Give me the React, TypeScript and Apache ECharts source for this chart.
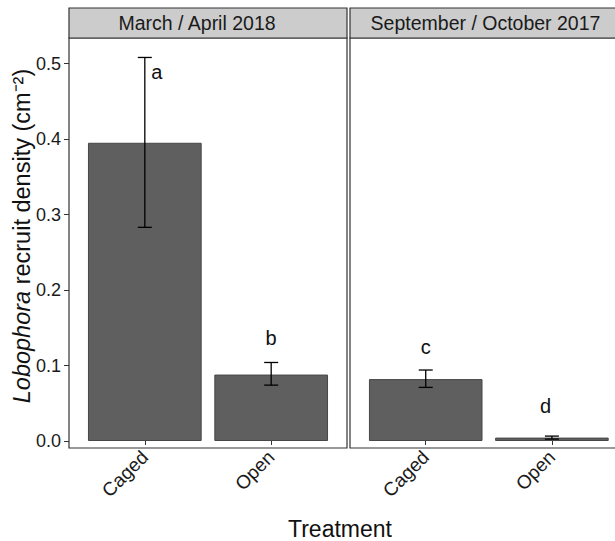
import React, { useEffect, useRef } from "react";
import * as echarts from "echarts";

const categories = ["Caged", "Open"];
const panelTitles = ["March / April 2018", "September / October 2017"];

const meanMarch = [0.395, 0.088];
const lowMarch = [0.283, 0.074];
const highMarch = [0.508, 0.104];

const meanSept = [0.082, 0.0045];
const lowSept = [0.071, 0.0025];
const highSept = [0.094, 0.0065];

const lettersMarch = ["a", "b"];
const letterDxMarch = [0.095, 0];
const letterYMarch = [0.489, 0.136];

const lettersSept = ["c", "d"];
const letterDxSept = [0, -0.05];
const letterYSept = [0.1245, 0.046];

const yTicks = [0, 0.1, 0.2, 0.3, 0.4, 0.5];

const FONT = '"Liberation Sans", Arial, Helvetica, sans-serif';

export default function App() {
  const ref = useRef<HTMLDivElement>(null);

  useEffect(() => {
    if (!ref.current) return;
    const chart = echarts.init(ref.current, null, { renderer: "svg" });

    const panelLeft = [69, 350];
    const panelTop = 38;
    const panelBottom = 448;
    const panelW = 278;
    const unit = panelW / 2.2;
    const zeroY = 441;
    const pxPer = 755;
    const gridTop = zeroY - yTicks[yTicks.length - 1] * pxPer;

    const grids = panelLeft.map((l) => ({
      left: l + unit * 0.1,
      top: gridTop,
      width: unit * 2,
      height: zeroY - gridTop,
    }));

    const makeErrRender = (letters: string[]) => (params: any, api: any) => {
      const x = api.value(0);
      const lo = api.coord([x, api.value(1)]);
      const hi = api.coord([x, api.value(2)]);
      const band = api.size([1, 0])[0];
      const lp = api.coord([x, api.value(3)]);
      const dx = api.value(4) * band;
      const w = 7;
      const st = { stroke: "#000", lineWidth: 1.3 };
      return {
        type: "group",
        children: [
          { type: "line", shape: { x1: lo[0], y1: lo[1], x2: hi[0], y2: hi[1] }, style: st },
          { type: "line", shape: { x1: hi[0] - w, y1: hi[1], x2: hi[0] + w, y2: hi[1] }, style: st },
          { type: "line", shape: { x1: lo[0] - w, y1: lo[1], x2: lo[0] + w, y2: lo[1] }, style: st },
          {
            type: "text",
            x: lp[0] + dx,
            y: lp[1],
            style: {
              text: letters[params.dataIndex],
              fontSize: 20,
              fontFamily: FONT,
              fill: "#111",
              align: "center",
              verticalAlign: "middle",
            },
          },
        ],
      };
    };

    const catAxis = (gi: number) => ({
      type: "category",
      gridIndex: gi,
      data: categories,
      offset: panelBottom - zeroY,
      axisLine: { show: false },
      splitLine: { show: false },
      axisTick: { show: true, alignWithLabel: true, length: 4, lineStyle: { color: "#333", width: 1 } },
      axisLabel: {
        rotate: 45,
        margin: 6,
        fontSize: 19,
        color: "#1a1a1a",
        fontFamily: FONT,
      },
    });

    const yAxisDef = (gi: number, show: boolean) => ({
      type: "value",
      gridIndex: gi,
      min: 0,
      max: 0.5,
      interval: 0.1,
      show,
      offset: unit * 0.1,
      splitLine: { show: false },
      axisLine: { show: false },
      axisTick: { show: true, length: 5, lineStyle: { color: "#333", width: 1 } },
      axisLabel: {
        fontSize: 18,
        color: "#1a1a1a",
        fontFamily: FONT,
        margin: 8,
        formatter: (v: number) => v.toFixed(1),
      },
    });

    const barSeries = (gi: number, vals: number[]) => ({
      type: "bar",
      xAxisIndex: gi,
      yAxisIndex: gi,
      data: vals,
      barWidth: "90%",
      itemStyle: { color: "#5f5f5f", borderColor: "#474747", borderWidth: 1 },
      silent: true,
    });

    const errSeries = (
      gi: number,
      lo: number[],
      hi: number[],
      ly: number[],
      ldx: number[],
      letters: string[]
    ) => ({
      type: "custom",
      xAxisIndex: gi,
      yAxisIndex: gi,
      renderItem: makeErrRender(letters),
      data: categories.map((_, i) => [i, lo[i], hi[i], ly[i], ldx[i]]),
      encode: { x: 0, y: [1, 2, 3] },
      z: 5,
      clip: false,
      silent: true,
    });

    const graphics: any[] = [];
    panelLeft.forEach((l) => {
      graphics.push({
        type: "rect",
        shape: { x: l, y: panelTop, width: panelW, height: panelBottom - panelTop },
        style: { fill: "none", stroke: "#333", lineWidth: 1.2 },
        z: 10,
      });
      graphics.push({
        type: "rect",
        shape: { x: l, y: 8, width: panelW, height: panelTop - 8 },
        style: { fill: "#cccccc", stroke: "#333", lineWidth: 1.2 },
        z: 10,
      });
    });
    const stripCenters = [197, 485.5];
    panelTitles.forEach((t, i) => {
      graphics.push({
        type: "text",
        x: stripCenters[i],
        y: 23,
        style: {
          text: t,
          fontSize: 19.5,
          fontFamily: FONT,
          fill: "#1a1a1a",
          align: "center",
          verticalAlign: "middle",
        },
        z: 11,
      });
    });
    graphics.push({
      type: "text",
      x: 22,
      y: 236,
      rotation: Math.PI / 2,
      style: {
        text: "{i|Lobophora} recruit density (cm⁻²)",
        fontSize: 23.5,
        fontFamily: FONT,
        fill: "#111",
        align: "center",
        verticalAlign: "middle",
        rich: {
          i: { fontStyle: "italic", fontSize: 23.5, fontFamily: FONT, fill: "#111" },
        },
      },
      z: 11,
    });
    graphics.push({
      type: "text",
      x: 340,
      y: 540,
      style: {
        text: "Treatment",
        fontSize: 23,
        fontFamily: FONT,
        fill: "#111",
        align: "center",
        verticalAlign: "bottom",
      },
      z: 11,
    });

    chart.setOption({
      animation: false,
      backgroundColor: "#ffffff",
      grid: grids,
      xAxis: [catAxis(0), catAxis(1)],
      yAxis: [yAxisDef(0, true), yAxisDef(1, false)],
      series: [
        barSeries(0, meanMarch),
        barSeries(1, meanSept),
        errSeries(0, lowMarch, highMarch, letterYMarch, letterDxMarch, lettersMarch),
        errSeries(1, lowSept, highSept, letterYSept, letterDxSept, lettersSept),
      ],
      graphic: graphics,
    });

    return () => chart.dispose();
  }, []);

  return (
    <div
      ref={ref}
      style={{ position: "absolute", left: 0, top: 0, width: 615, height: 541 }}
    />
  );
}
